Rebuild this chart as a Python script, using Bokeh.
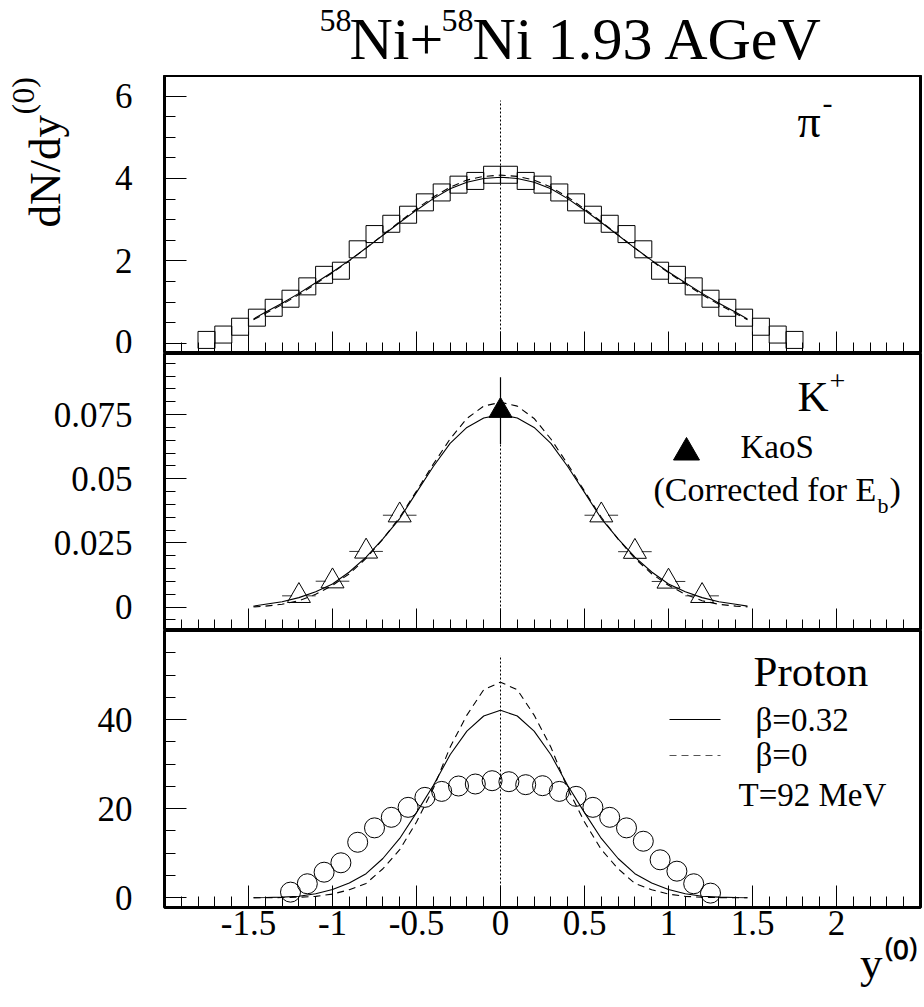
import math
from bokeh.plotting import figure
from bokeh.layouts import column, row
from bokeh.models import FixedTicker, Label, Title
from bokeh.embed import file_html
from bokeh.resources import INLINE

# ---------------- data ----------------
# pi- rapidity distribution (open squares)
pion_x = [-1.75, -1.65, -1.55, -1.45, -1.35, -1.25, -1.15, -1.05, -0.95, -0.85, -0.75, -0.65,
          -0.55, -0.45, -0.35, -0.25, -0.15, -0.05, 0.05, 0.15, 0.25, 0.35, 0.45, 0.55,
          0.65, 0.75, 0.85, 0.95, 1.05, 1.15, 1.25, 1.35, 1.45, 1.55, 1.65, 1.75]
pion_dndy = [0.08, 0.21, 0.40, 0.62, 0.86, 1.08, 1.38, 1.66, 1.76, 2.28, 2.65, 2.90,
             3.12, 3.42, 3.66, 3.85, 3.94, 4.09, 4.09, 3.94, 3.85, 3.66, 3.42, 3.12,
             2.90, 2.65, 2.28, 1.76, 1.66, 1.38, 1.08, 0.86, 0.62, 0.40, 0.21, 0.08]

# abscissa of the model curves
fit_x = [-1.47, -1.4, -1.3, -1.2, -1.1, -1.0, -0.9, -0.8, -0.7, -0.6, -0.5, -0.4, -0.3, -0.2, -0.1, 0.0,
         0.1, 0.2, 0.3, 0.4, 0.5, 0.6, 0.7, 0.8, 0.9, 1.0, 1.1, 1.2, 1.3, 1.4, 1.47]

pion_fit_flow = [0.59, 0.75, 0.97, 1.21, 1.47, 1.73, 2.01, 2.31, 2.62, 2.93, 3.23, 3.51, 3.75, 3.91, 4.00, 4.03,
                 4.00, 3.91, 3.75, 3.51, 3.23, 2.93, 2.62, 2.31, 2.01, 1.73, 1.47, 1.21, 0.97, 0.75, 0.59]
pion_fit_static = [0.57, 0.72, 0.94, 1.18, 1.44, 1.71, 2.00, 2.31, 2.63, 2.95, 3.26, 3.55, 3.79, 3.96, 4.05, 4.08,
                   4.05, 3.96, 3.79, 3.55, 3.26, 2.95, 2.63, 2.31, 2.00, 1.71, 1.44, 1.18, 0.94, 0.72, 0.57]

# K+ (open triangles, with horizontal bin width) and KaoS (filled triangle)
kaon_x = [-1.2, -1.0, -0.8, -0.6, 0.6, 0.8, 1.0, 1.2]
kaon_dndy = [0.0044, 0.0101, 0.0217, 0.0358, 0.0358, 0.0216, 0.0100, 0.0044]
kaon_xerr = [0.1, 0.1, 0.1, 0.1, 0.1, 0.1, 0.1, 0.1]
kaos_x = [0.0]
kaos_dndy = [0.0765]
kaos_err = [0.013]

kaon_fit_flow = [0.0004, 0.0011, 0.0021, 0.0037, 0.0060, 0.0090, 0.0137, 0.0195, 0.0266, 0.0345, 0.0447,
                 0.0548, 0.0638, 0.0700, 0.0737, 0.0750, 0.0737, 0.0700, 0.0638, 0.0548, 0.0447, 0.0345,
                 0.0266, 0.0195, 0.0137, 0.0090, 0.0060, 0.0037, 0.0021, 0.0011, 0.0004]
kaon_fit_static = [0.0001, 0.0004, 0.0011, 0.0025, 0.0050, 0.0085, 0.0130, 0.0190, 0.0265, 0.0350, 0.0452,
                   0.0557, 0.0655, 0.0735, 0.0783, 0.0798, 0.0783, 0.0735, 0.0655, 0.0557, 0.0452, 0.0350,
                   0.0265, 0.0190, 0.0130, 0.0085, 0.0050, 0.0025, 0.0011, 0.0004, 0.0001]

# protons (open circles)
proton_x = [-1.25, -1.15, -1.05, -0.95, -0.85, -0.75, -0.65, -0.55, -0.45, -0.35, -0.25, -0.15, -0.05,
            0.05, 0.15, 0.25, 0.35, 0.45, 0.55, 0.65, 0.75, 0.85, 0.95, 1.05, 1.15, 1.25]
proton_dndy = [1.25, 3.13, 5.73, 7.84, 12.45, 15.68, 18.05, 20.29, 22.53, 23.87, 25.08, 25.53, 26.27,
               26.05, 25.38, 25.15, 23.87, 22.76, 20.29, 18.05, 15.68, 12.68, 8.51, 5.96, 3.13, 1.03]

proton_fit_flow = [0.0, 0.05, 0.14, 0.33, 0.9, 1.85, 3.3, 5.4, 8.8, 13.3, 19.1, 25.2, 32.1, 37.4, 40.8, 42.1,
                   40.8, 37.4, 32.1, 25.2, 19.1, 13.3, 8.8, 5.4, 3.3, 1.85, 0.9, 0.33, 0.14, 0.05, 0.0]
proton_fit_static = [0.0, 0.0, 0.03, 0.1, 0.3, 0.8, 1.8, 3.2, 6.5, 10.8, 17.0, 24.5, 33.8, 41.0, 46.7, 48.4,
                     46.7, 41.0, 33.8, 24.5, 17.0, 10.8, 6.5, 3.2, 1.8, 0.8, 0.3, 0.1, 0.03, 0.0, 0.0]

# ticks and tick labels
x_tick_vals = [-1.5, -1.0, -0.5, 0.0, 0.5, 1.0, 1.5, 2.0]
x_tick_labels = ["-1.5", "-1", "-0.5", "0", "0.5", "1", "1.5", "2"]
x_minor_vals = [-1.9, -1.8, -1.7, -1.6, -1.4, -1.3, -1.2, -1.1, -0.9, -0.8, -0.7, -0.6, -0.4, -0.3, -0.2, -0.1,
                0.1, 0.2, 0.3, 0.4, 0.6, 0.7, 0.8, 0.9, 1.1, 1.2, 1.3, 1.4, 1.6, 1.7, 1.8, 1.9,
                2.1, 2.2, 2.3, 2.4]
pi_tick_vals = [0.0, 2.0, 4.0, 6.0]
pi_tick_labels = ["0", "2", "4", "6"]
pi_minor_vals = [0.5, 1.0, 1.5, 2.5, 3.0, 3.5, 4.5, 5.0, 5.5, 6.5]
k_tick_vals = [0.0, 0.025, 0.05, 0.075]
k_tick_labels = ["0", "0.025", "0.05", "0.075"]
k_minor_vals = [-0.005, 0.005, 0.01, 0.015, 0.02, 0.03, 0.035, 0.04, 0.045, 0.055, 0.06, 0.065, 0.07,
                0.08, 0.085, 0.09, 0.095]
p_tick_vals = [0.0, 20.0, 40.0]
p_tick_labels = ["0", "20", "40"]
p_minor_vals = [5.0, 10.0, 15.0, 25.0, 30.0, 35.0, 45.0, 50.0, 55.0, 60.0]

# ---------------- layout / style ----------------
FONT = "Liberation Serif"
W = 924
STRIP_W = 75          # left strip (beside the top panel) holding the y title
TOP_H = 75            # top strip holding the main title
FL, FR = 164, 920     # frame edges on the page
X0, X1 = -2.0, 2.5
TOP = (75, 353, -0.25, 6.5)
MID = (353, 630, -0.0091, 0.0988)
BOT = (630, 907, -2.2, 60.0)
BASE = 0.4            # baseline correction (fraction of font size)
DASH = "7 5"


def xd(px):
    return X0 + (px - FL) / (FR - FL) * (X1 - X0)


def yd(panel, py):
    top, bot, lo, hi = panel
    return hi - (py - top) / (bot - top) * (hi - lo)


def strip(width, height, xr, yr):
    return figure(width=width, height=height, x_range=xr, y_range=yr,
                  x_axis_type=None, y_axis_type=None, output_backend="svg", toolbar_location=None,
                  min_border=0, min_border_left=0, min_border_right=0, min_border_top=0, min_border_bottom=0,
                  outline_line_color=None, background_fill_color="white", border_fill_color="white")


def make_panel(panel, left_off, b_bottom, yt, yl, ym, show_x):
    top, bot, lo, hi = panel
    p = figure(width=W - left_off, height=(bot - top) + b_bottom,
               x_range=(X0, X1), y_range=(lo, hi),
               output_backend="svg", toolbar_location=None,
               min_border_left=FL - left_off, min_border_right=W - FR,
               min_border_top=0, min_border_bottom=b_bottom,
               outline_line_color="black", outline_line_width=3,
               background_fill_color="white", border_fill_color="white")
    p.grid.visible = False
    xa = p.xaxis[0]
    xa.ticker = FixedTicker(ticks=x_tick_vals, minor_ticks=x_minor_vals)
    xa.major_label_overrides = dict(zip(x_tick_vals, x_tick_labels))
    ya = p.yaxis[0]
    ya.ticker = FixedTicker(ticks=yt, minor_ticks=ym)
    ya.major_label_overrides = dict(zip(yt, yl))
    for ax in (xa, ya):
        ax.axis_line_color = None
        ax.major_tick_in = 22
        ax.major_tick_out = 0
        ax.minor_tick_in = 11
        ax.minor_tick_out = 0
        ax.major_tick_line_color = "black"
        ax.minor_tick_line_color = "black"
        ax.major_label_text_font = FONT
        ax.major_label_text_font_size = "35px"
        ax.major_label_text_color = "black"
    ya.major_label_standoff = 32
    if show_x:
        xa.major_label_standoff = 3
    else:
        xa.fixed_location = lo
        xa.major_label_text_color = None
        xa.major_label_standoff = 0
    # dotted symmetry line at y(0)=0
    p.line([0.0, 0.0], [lo, lo + 0.91 * (hi - lo)], line_color="black", line_width=1, line_dash="2 2")
    return p


def lab(p, x, y, text, size, angle=0.0):
    p.add_layout(Label(x=x, y=y, text=text, text_font=FONT,
                       text_font_size=f"{size}px", text_color="black",
                       text_align="left", text_baseline="alphabetic", angle=angle))


def plab(p, panel, px, py, text, size):
    # px, py: page position where the glyph baseline should start
    lab(p, xd(px), yd(panel, py - BASE * size), text, size)


# ---- top strip: main title (page pixel coordinates) ----
ts = strip(W, TOP_H, (0, W), (TOP_H, 0))
lab(ts, 319, 33 - BASE * 32, "58", 32)
lab(ts, 349, 62 - BASE * 60, "Ni+", 60)
lab(ts, 441, 33 - BASE * 32, "58", 32)
lab(ts, 472, 62 - BASE * 60, "Ni 1.93 AGeV", 60)

# ---- left strip beside the top panel: y title (page pixel coordinates) ----
ls = strip(STRIP_W, TOP[1] - TOP[0], (0, STRIP_W), (TOP[1], TOP[0]))
lab(ls, 62 - BASE * 45, 227, "dN/dy", 45, angle=math.pi / 2)
lab(ls, 35 - BASE * 32, 114, "(0)", 32, angle=math.pi / 2)

# ---- top panel: pi- ----
p1 = make_panel(TOP, STRIP_W, 0, pi_tick_vals, pi_tick_labels, pi_minor_vals, False)
p1.line(fit_x, pion_fit_static, line_color="black", line_width=1.1, line_dash=DASH)
p1.line(fit_x, pion_fit_flow, line_color="black", line_width=1.1)
p1.scatter(pion_x, pion_dndy, marker="square", size=17, fill_color=None, line_color="black", line_width=1)
plab(p1, TOP, 797, 139, "\u03c0", 46)
plab(p1, TOP, 822, 115, "-", 30)

# ---- middle panel: K+ ----
p2 = make_panel(MID, 0, 0, k_tick_vals, k_tick_labels, k_minor_vals, False)
p2.line(fit_x, kaon_fit_static, line_color="black", line_width=1.1, line_dash=DASH)
p2.line(fit_x, kaon_fit_flow, line_color="black", line_width=1.1)
GAP = 0.04
p2.segment(x0=[x - e for x, e in zip(kaon_x, kaon_xerr)], y0=kaon_dndy,
           x1=[x - GAP for x in kaon_x], y1=kaon_dndy, line_color="#333333", line_width=1)
p2.segment(x0=[x + GAP for x in kaon_x], y0=kaon_dndy,
           x1=[x + e for x, e in zip(kaon_x, kaon_xerr)], y1=kaon_dndy, line_color="#333333", line_width=1)
p2.segment(x0=kaos_x, y0=[y - e for y, e in zip(kaos_dndy, kaos_err)],
           x1=kaos_x, y1=[y + e for y, e in zip(kaos_dndy, kaos_err)], line_color="black", line_width=1.2)
p2.scatter(kaon_x, kaon_dndy, marker="triangle", size=23, fill_color=None, line_color="black", line_width=1)
p2.scatter(kaos_x, kaos_dndy, marker="triangle", size=23, fill_color="black", line_color="black", line_width=1)
plab(p2, MID, 797, 413, "K", 43)
plab(p2, MID, 829, 392, "+", 28)
p2.scatter([xd(686)], [yd(MID, 452)], marker="triangle", size=26, fill_color="black", line_color="black")
plab(p2, MID, 740, 460, "KaoS", 33)
plab(p2, MID, 653, 503, "(Corrected for E", 34)
plab(p2, MID, 877, 514, "b", 22)
plab(p2, MID, 889, 503, ")", 34)

# ---- bottom panel: protons ----
p3 = make_panel(BOT, 0, 100, p_tick_vals, p_tick_labels, p_minor_vals, True)
p3.line(fit_x, proton_fit_static, line_color="black", line_width=1.1, line_dash=DASH)
p3.line(fit_x, proton_fit_flow, line_color="black", line_width=1.1)
p3.scatter(proton_x, proton_dndy, marker="circle", size=20, fill_color=None, line_color="black", line_width=1)
plab(p3, BOT, 753, 688, "Proton", 43)
p3.line([xd(669), xd(720)], [yd(BOT, 719), yd(BOT, 719)], line_color="black", line_width=1)
p3.line([xd(669), xd(720)], [yd(BOT, 755), yd(BOT, 755)], line_color="#555555", line_width=1, line_dash=DASH)
plab(p3, BOT, 755, 733, "\u03b2=0.32", 33)
plab(p3, BOT, 755, 768, "\u03b2=0", 33)
plab(p3, BOT, 738, 808, "T=92 MeV", 33)
p3.add_layout(Title(text="y\u207d\u2070\u207e", align="right", offset=2, standoff=0, vertical_align="top",
                    text_font=FONT, text_font_size="45px", text_font_style="normal", text_color="black"),
              "below")

layout = column(ts, column(row(ls, p1), p2, p3))
open("out.html", "w").write(file_html(layout, INLINE))
